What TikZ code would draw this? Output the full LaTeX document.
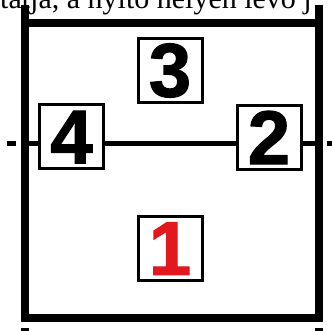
\documentclass[tikz,border=0pt]{standalone}
\usepackage{fontspec}
\setmainfont{Liberation Serif}
\newfontfamily\digitfont[FakeBold=1.6]{Liberation Sans Bold}
\definecolor{digitred}{RGB}{225,25,30}
\begin{document}
\begin{tikzpicture}[x=1pt,y=-1pt,
  frameline/.style={line width=8pt, line join=miter},
  link/.style={line width=5pt},
  numbox/.style={draw, line width=3pt, minimum size=64pt, inner sep=0pt, fill=white,
    font=\digitfont\fontsize{76}{76}\selectfont},
]
\useasboundingbox (0,0) rectangle (332,331);
\clip (0,0) rectangle (332,331);
\node[anchor=base west, inner sep=0pt, font=\fontsize{30}{30}\selectfont] (caption) at (0,8.5) {tatja, a nyitó helyen levő j};
% frame
\draw[frameline] (24.5,5) -- (24.5,318) -- (319,318) -- (319,5);
\draw[frameline] (24.5,23.5) -- (319,23.5);
\draw[frameline] (24.5,328) -- (24.5,335);
\draw[frameline] (319,328) -- (319,335);
% coordinates
\coordinate (fl) at (24.5,144);
\coordinate (fr) at (319,144);
\coordinate (sla) at (7,144);
\coordinate (slb) at (16,144);
\coordinate (sra) at (327,144);
\coordinate (srb) at (335,144);
% boxes
\node[numbox] (n3) at (170,70.5) {3};
\node[numbox] (n4) at (71.5,137) {4};
\node[numbox] (n2) at (269,137.5) {2};
\node[numbox, text=digitred] (n1) at (170,248.5) {1};
% links
\draw[link] (sla) -- (slb);
\draw[link] (sra) -- (srb);
\draw[link] (fl) -- (fl -| n4.west);
\draw[link] (fl -| n4.east) -- (fl -| n2.west);
\draw[link] (fl -| n2.east) -- (fr);
\end{tikzpicture}
\end{document}
